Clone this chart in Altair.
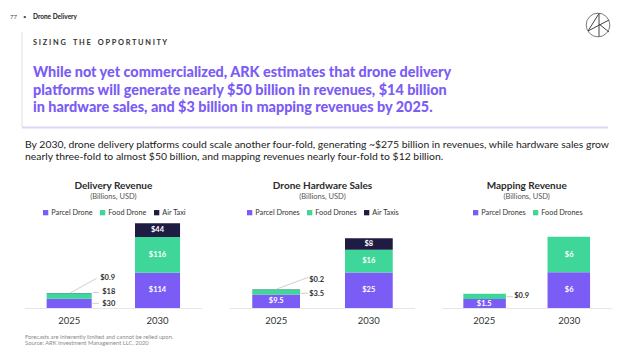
import altair as alt
import pandas as pd

# ---------------- data ----------------
YEARS = ["2025", "2030"]

DEL_SERIES = ["Parcel Drone", "Food Drone", "Air Taxi"]
DEL_2025 = [30, 18, 0.9]
DEL_2030 = [114, 116, 44]

HW_SERIES = ["Parcel Drones", "Food Drones", "Air Taxis"]
HW_2025 = [9.5, 3.5, 0.2]
HW_2030 = [25, 16, 8]

MAP_SERIES = ["Parcel Drones", "Food Drones"]
MAP_2025 = [1.5, 0.9]
MAP_2030 = [6, 6]

PANEL_TITLES = ["Delivery Revenue", "Drone Hardware Sales", "Mapping Revenue"]
PANEL_SUB = "(Billions, USD)"

PAGE_NO = "77"
SECTION = "Drone Delivery"
KICKER = "SIZING THE OPPORTUNITY"
HEADLINE = [
    "While not yet commercialized, ARK estimates that drone delivery",
    "platforms will generate nearly $50 billion in revenues, $14 billion",
    "in hardware sales, and $3 billion in mapping revenues by 2025.",
]
SUBTEXT = [
    "By 2030, drone delivery platforms could scale another four-fold, generating ~$275 billion in revenues, while hardware sales grow",
    "nearly three-fold to almost $50 billion, and mapping revenues nearly four-fold to $12 billion.",
]
FOOTNOTE = [
    "Forecasts are inherently limited and cannot be relied upon.",
    "Source: ARK Investment Management LLC, 2020",
]

# ---------------- style ----------------
FONT = "Lato"
PURPLE = "#7b5cf5"
GREEN = "#3fd69a"
NAVY = "#1e1c42"
DARK = "#2b2b2b"
BASE_Y = 300
NB = "\u00a0"


def spaced(s):
    words = s.split(" ")
    return (NB * 4).join((NB).join(list(w)) for w in words)


def fmt(v):
    return "$" + f"{v:g}"


def panel_df(series, v25, v30):
    rows = []
    for year, vals in zip(YEARS, [v25, v30]):
        cum = 0.0
        for i, (s, v) in enumerate(zip(series, vals)):
            rows.append(dict(year=year, series=s, value=v, start=cum, end=cum + v,
                             mid=cum + v / 2, label=fmt(v), order=i))
            cum += v
    return pd.DataFrame(rows)


def txt(text, x, y, size, color=DARK, weight="normal", align="left", font=FONT, baseline="middle"):
    return alt.Chart(pd.DataFrame({"t": [text]})).mark_text(
        align=align, baseline=baseline, fontSize=size, font=font, fontWeight=weight, color=color
    ).encode(x=alt.value(x), y=alt.value(y), text="t:N")


def seg(x1, y1, x2, y2, color="#c4c4c4", width=0.8):
    return alt.Chart(pd.DataFrame({"a": [0]})).mark_rule(color=color, strokeWidth=width).encode(
        x=alt.value(x1), y=alt.value(y1), x2=alt.value(x2), y2=alt.value(y2))


def panel(title, series, v25, v30, xr, pi, po, ymax, ytop, colors, legend_x,
          inside25, outside, leaders):
    df = panel_df(series, v25, v30)
    xs = alt.Scale(domain=YEARS, range=xr, paddingInner=pi, paddingOuter=po)
    ys = alt.Scale(domain=[0, ymax], range=[BASE_Y, ytop], nice=False, zero=True)
    X = alt.X("year:N", scale=xs, axis=None)
    cx = (xr[0] + xr[1]) / 2
    layers = []
    layers.append(txt(title, cx, 178, 10, weight="bold", align="center"))
    layers.append(txt(PANEL_SUB, cx, 189, 7.5, color="#555", align="center"))
    layers.append(seg(xr[0], BASE_Y + 0.5, xr[1], BASE_Y + 0.5, color="#e6e6e6", width=1))
    bars = alt.Chart(df).mark_bar().encode(
        x=X,
        y=alt.Y("start:Q", scale=ys, axis=None),
        y2="end:Q",
        color=alt.Color("series:N", scale=alt.Scale(domain=series, range=colors),
                        legend=alt.Legend(title=None, orient="none", legendX=legend_x, legendY=201,
                                          direction="horizontal", symbolType="square",
                                          symbolSize=28, symbolStrokeWidth=0, labelFontSize=7.3,
                                          labelFont=FONT, labelColor="#333", columnPadding=6,
                                          labelOffset=2, rowPadding=0)),
    )
    layers.append(bars)
    ins = df[(df.year == "2030") | ((df.year == "2025") & (df.series.isin(inside25)))]
    layers.append(alt.Chart(ins).mark_text(color="white", fontWeight="bold", fontSize=7.5, font=FONT).encode(
        x=X, y=alt.Y("mid:Q", scale=ys, axis=None), text="label:N"))
    for s, dx, dy in outside:
        sub = df[(df.year == "2025") & (df.series == s)]
        layers.append(alt.Chart(sub).mark_text(align="left", dx=dx, dy=dy, fontSize=7.5, font=FONT,
                                               fontWeight="bold", color="#333").encode(
            x=X, y=alt.Y("mid:Q", scale=ys, axis=None), text="label:N"))
    for l in leaders:
        layers.append(seg(*l))
    layers.append(alt.Chart(pd.DataFrame({"year": YEARS})).mark_text(
        fontSize=9.5, font=FONT, color="#333").encode(x=X, y=alt.value(313), text="year:N"))
    return layers


layers = []

# header
layers.append(txt(PAGE_NO, 2, 9, 6, color="#444"))
layers.append(txt("•", 15, 9, 6, color="#444"))
layers.append(txt(SECTION, 25, 9, 6.5, weight="bold", color="#222"))
layers.append(txt(spaced(KICKER), 25, 35, 7.4, weight="bold", color="#333"))
# logo
layers.append(alt.Chart(pd.DataFrame({"a": [0]})).mark_point(
    shape="circle", size=560, filled=False, color="#444", strokeWidth=1).encode(
    x=alt.value(590), y=alt.value(17)))
layers.append(seg(591, 5.5, 591, 28.5, color="#444", width=1))
layers.append(seg(591, 5.5, 580, 23, color="#444", width=1))
layers.append(seg(580, 23, 601, 12, color="#444", width=1))
layers.append(seg(591, 16, 601, 24, color="#444", width=1))

# headline box
layers.append(seg(14, 24, 14, 119, color="#efefef", width=2))
layers.append(seg(14, 119.5, 600, 119.5, color="#ddd6f7", width=2))
for i, line in enumerate(HEADLINE):
    layers.append(txt(line, 25, 65 + i * 17.5, 14.4, color=PURPLE, weight=900))
for i, line in enumerate(SUBTEXT):
    layers.append(txt(line, 17, 137 + i * 12, 10.4, color="#222"))
for i, line in enumerate(FOOTNOTE):
    layers.append(txt(line, 17, 328.5 + i * 6.8, 5.8, color="#8a8a8a"))

layers += panel(PANEL_TITLES[0], DEL_SERIES, DEL_2025, DEL_2030, [17, 193.7], 0.49, 0.245,
                274, 215.3, [PURPLE, GREEN, NAVY], 34, [],
                [("Air Taxi", 31, -14.8), ("Food Drone", 33, -3.7), ("Parcel Drone", 33, 1)],
                [(88.7, 270.3, 62, 285), (84.5, 284.5, 91, 284.5), (84.5, 295.3, 91, 295.3)])
layers += panel(PANEL_TITLES[1], HW_SERIES, HW_2025, HW_2030, [222, 407], 0.485, 0.24,
                49, 230.3, [PURPLE, GREEN, NAVY], 238, ["Parcel Drones"],
                [("Air Taxis", 33, -9.8), ("Food Drones", 33, 2.4)],
                [(300.3, 269.3, 268.7, 281), (292.5, 285.3, 300, 285.3)])
layers += panel(PANEL_TITLES[2], MAP_SERIES, MAP_2025, MAP_2030, [433.7, 603.7], 0.495, 0.257,
                12, 228.7, [PURPLE, GREEN], 464, ["Parcel Drones"],
                [("Food Drones", 30, 0)],
                [(498.5, 288.7, 505, 288.7)])

chart = alt.layer(*layers).resolve_scale(
    x="independent", y="independent", color="independent"
).properties(
    width=607, height=341, autosize=alt.AutoSizeParams(type="none"), padding=0, background="white"
).configure_view(strokeWidth=0)

chart.save("out.html", embed_options={"renderer": "svg", "actions": False})
